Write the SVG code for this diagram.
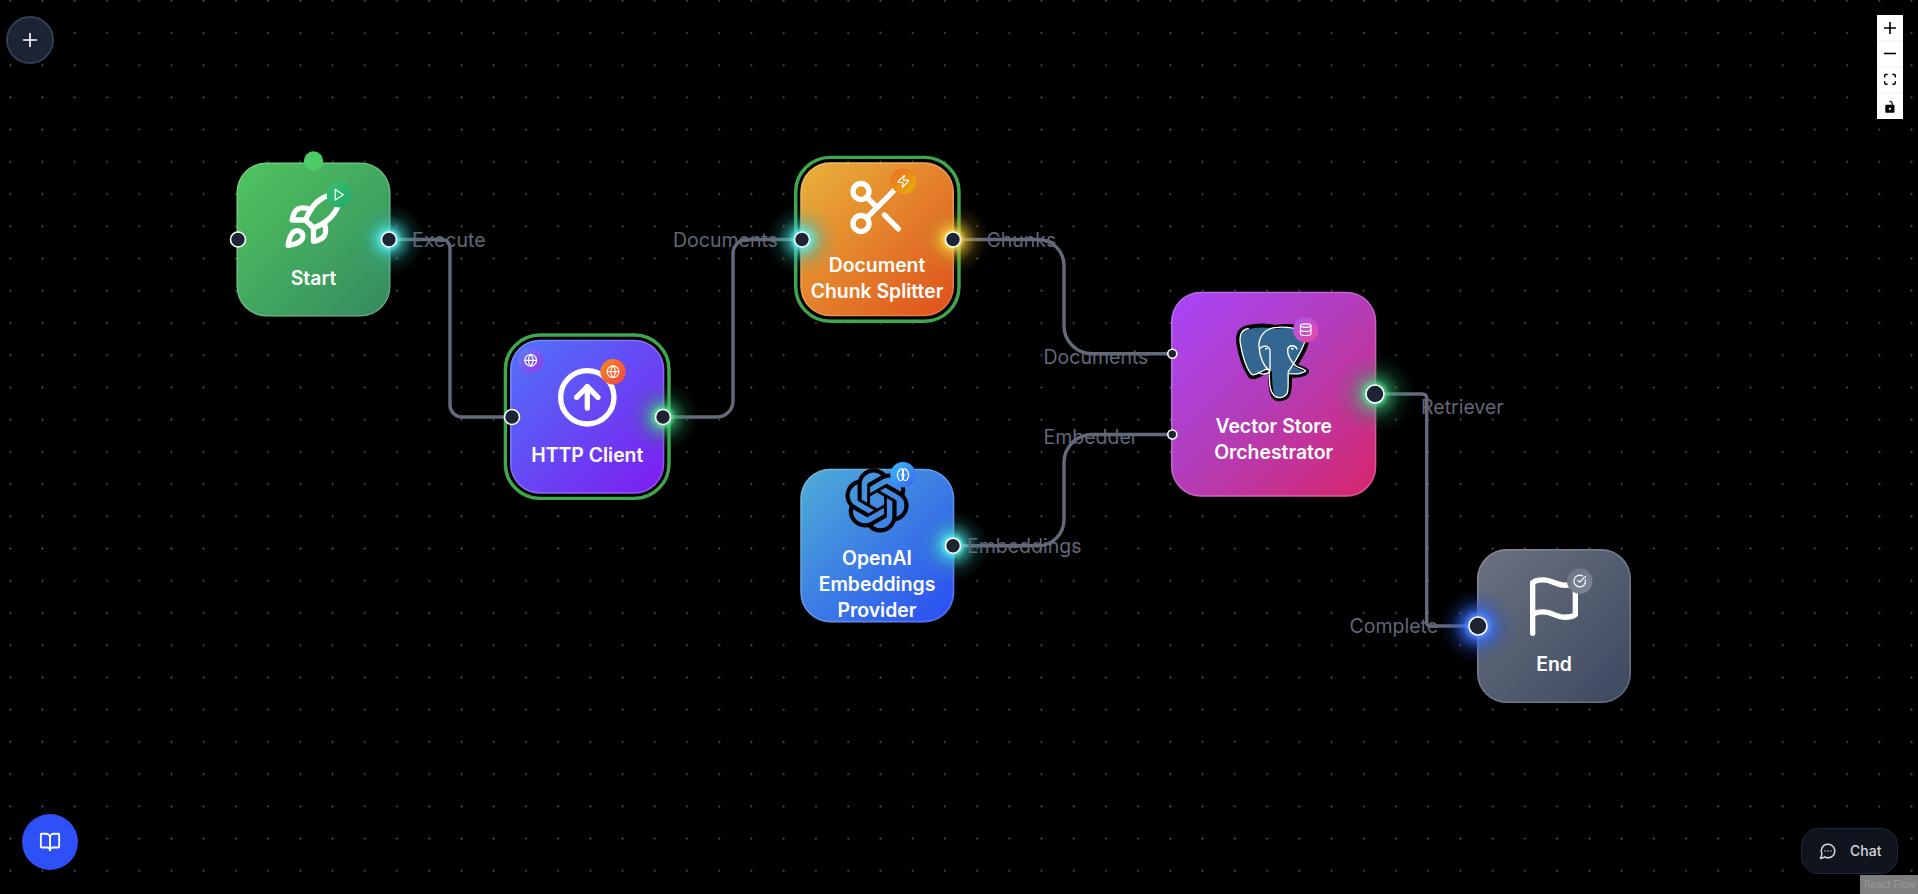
<svg xmlns="http://www.w3.org/2000/svg" width="1918" height="894" viewBox="0 0 1918 894">
<style>
text{font-family:Inter,"Liberation Sans",sans-serif}
.lbl{font-size:19.4px;font-weight:600;fill:#fff;text-anchor:middle}
.elbl{font-size:19.5px;font-weight:400;fill:#616778;dominant-baseline:central}
.edge{fill:none;stroke:#646a7a;stroke-width:3.4}
.ic{fill:none;stroke:#fff;stroke-width:2;stroke-linecap:round;stroke-linejoin:round}
.bd{fill:none;stroke:rgba(255,255,255,.2);stroke-width:1.6}
.ring{fill:none;stroke:#3fa84f;stroke-width:3.4}
.h{fill:#1e2433;stroke:#fff;stroke-width:1.6}
</style>
<defs>
<pattern id="dots" x="-5.8" y="-15.4" width="32.225" height="32.225" patternUnits="userSpaceOnUse"><circle cx="16.11" cy="16.11" r=".9" fill="#666"/></pattern>
<linearGradient id="gS" x1="0" y1="0" x2="1" y2="1"><stop offset="0" stop-color="#50c55e"/><stop offset="1" stop-color="#348a60"/></linearGradient>
<linearGradient id="gH" x1="0" y1="0" x2="1" y2="1"><stop offset="0" stop-color="#4f73f8"/><stop offset="1" stop-color="#7e1cf0"/></linearGradient>
<linearGradient id="gD" x1="0" y1="0" x2="1" y2="1"><stop offset="0" stop-color="#e9b23a"/><stop offset="1" stop-color="#df4f1c"/></linearGradient>
<linearGradient id="gV" x1="0" y1="0" x2="1" y2="1"><stop offset="0" stop-color="#a845fa"/><stop offset=".5" stop-color="#b43cb6"/><stop offset="1" stop-color="#d8256a"/></linearGradient>
<linearGradient id="gO" x1="0" y1="0" x2="1" y2="1"><stop offset="0" stop-color="#4eaed6"/><stop offset="1" stop-color="#2a4cf2"/></linearGradient>
<linearGradient id="gE" x1="0" y1="0" x2="1" y2="1"><stop offset="0" stop-color="#6b7280"/><stop offset="1" stop-color="#3c4860"/></linearGradient>
<linearGradient id="b1" x1="0" y1="0" x2="1" y2="1"><stop offset="0" stop-color="#34c46e"/><stop offset="1" stop-color="#25a56d"/></linearGradient>
<linearGradient id="b2" x1="0" y1="0" x2="1" y2="1"><stop offset="0" stop-color="#5c82f4"/><stop offset="1" stop-color="#9333ea"/></linearGradient>
<linearGradient id="b3" x1="0" y1="0" x2="1" y2="1"><stop offset="0" stop-color="#f98a1e"/><stop offset="1" stop-color="#ef4444"/></linearGradient>
<linearGradient id="b4" x1="0" y1="0" x2="1" y2="1"><stop offset="0" stop-color="#ea6a24"/><stop offset="1" stop-color="#eab308"/></linearGradient>
<linearGradient id="b5" x1="0" y1="0" x2="1" y2="1"><stop offset="0" stop-color="#a855f7"/><stop offset="1" stop-color="#ec4899"/></linearGradient>
<linearGradient id="b6" x1="0" y1="0" x2="1" y2="1"><stop offset="0" stop-color="#38bdf8"/><stop offset="1" stop-color="#3b62f6"/></linearGradient>
<linearGradient id="b7" x1="0" y1="0" x2="1" y2="1"><stop offset="0" stop-color="#6b7280"/><stop offset="1" stop-color="#808999"/></linearGradient>
<radialGradient id="gc"><stop offset=".2" stop-color="#5ff0f0"/><stop offset=".38" stop-color="#45d8d4" stop-opacity=".55"/><stop offset=".68" stop-color="#30b0a8" stop-opacity=".16"/><stop offset="1" stop-color="#30b0a8" stop-opacity="0"/></radialGradient>
<radialGradient id="gg"><stop offset=".2" stop-color="#5ce89a"/><stop offset=".38" stop-color="#3cc47a" stop-opacity=".5"/><stop offset=".68" stop-color="#2a9a5c" stop-opacity=".16"/><stop offset="1" stop-color="#2a9a5c" stop-opacity="0"/></radialGradient>
<radialGradient id="gy"><stop offset=".2" stop-color="#f8e050"/><stop offset=".38" stop-color="#e8c238" stop-opacity=".55"/><stop offset=".68" stop-color="#c09a20" stop-opacity=".16"/><stop offset="1" stop-color="#c09a20" stop-opacity="0"/></radialGradient>
<radialGradient id="gb"><stop offset=".24" stop-color="#5a8cff"/><stop offset=".42" stop-color="#3468f0" stop-opacity=".65"/><stop offset=".7" stop-color="#2450c8" stop-opacity=".2"/><stop offset="1" stop-color="#2450c8" stop-opacity="0"/></radialGradient>
<g id="globe"><circle cx="12" cy="12" r="10"/><path d="M12 2a14.5 14.5 0 0 0 0 20 14.5 14.5 0 0 0 0-20"/><path d="M2 12h20"/></g>
</defs>
<rect width="1918" height="894" fill="#000"/>
<rect width="1918" height="894" fill="url(#dots)"/>

<g id="connectors">
<path class="edge" d="M389 239.500H442a8 8 0 0 1 8 8V405a12 12 0 0 0 12 12H512"/>
<path class="edge" d="M663 417H717a16 16 0 0 0 16-16V253.500a14 14 0 0 1 14-14H802"/>
<path class="edge" d="M953 239.500H1038a26 26 0 0 1 26 26V325.700a28 28 0 0 0 28 28H1172"/>
<path class="edge" d="M953 545.700H1038a26 26 0 0 0 26-26V462.500a28 28 0 0 1 28-28H1172"/>
<path class="edge" d="M1375 394H1422.700a4 4 0 0 1 4 4V623a3 3 0 0 0 3 3H1478"/>
</g>

<g id="start">
<rect x="236.500" y="162.500" width="154" height="154" rx="30" fill="url(#gS)"/>
<rect class="bd" x="237.300" y="163.300" width="152.400" height="152.400" rx="29"/>
<circle cx="313.500" cy="161" r="9.700" fill="#4ccb66"/>
<g class="ic" transform="translate(281.500 188) scale(2.667)"><path d="M4.500 16.500c-1.500 1.260-2 5-2 5s3.740-.5 5-2c.71-.84.7-2.130-.09-2.910a2.180 2.180 0 0 0-2.910-.09z"/><path d="m12 15-3-3a22 22 0 0 1 2-3.950A12.880 12.880 0 0 1 22 2c0 2.720-.78 7.500-6 11a22.350 22.350 0 0 1-4 2z"/><path d="M9 12H4s.55-3.030 2-4c1.620-1.080 5 0 5 0"/><path d="M12 15v5s3.030-.55 4-2c1.080-1.620 0-5 0-5"/></g>
<circle cx="339.300" cy="194.700" r="12.700" fill="url(#b1)"/>
<g class="ic" transform="translate(332.300 187.700) scale(.583)"><path d="M5 3 19 12 5 21z"/></g>
<text class="lbl" x="313.500" y="285">Start</text>
<circle cx="238" cy="239.500" r="7.500" class="h"/>
<circle cx="389" cy="239.500" r="36" fill="url(#gc)"/>
<circle cx="389" cy="239.500" r="7.500" class="h"/>
</g>

<g id="http-client">
<rect class="ring" x="505.400" y="335" width="163.600" height="163.400" rx="34.500"/>
<rect x="510" y="339.700" width="154.300" height="154" rx="30" fill="url(#gH)"/>
<rect class="bd" x="510.800" y="340.500" width="152.700" height="152.400" rx="29"/>
<g class="ic" transform="translate(555.300 365.300) scale(2.667)"><circle cx="12" cy="12" r="10"/><path d="m16 12-4-4-4 4"/><path d="M12 16V8"/></g>
<circle cx="530.700" cy="360.300" r="12.700" fill="url(#b2)"/>
<use href="#globe" class="ic" transform="translate(523.700 353.300) scale(.583)"/>
<circle cx="613" cy="371.700" r="12.700" fill="url(#b3)"/>
<use href="#globe" class="ic" transform="translate(606 364.700) scale(.583)"/>
<text class="lbl" x="587.300" y="461.700">HTTP Client</text>
<circle cx="512" cy="417" r="7.500" class="h"/>
<circle cx="663" cy="417" r="36" fill="url(#gg)"/>
<circle cx="663" cy="417" r="7.500" class="h"/>
</g>

<g id="document-chunk-splitter">
<rect class="ring" x="795.700" y="157.400" width="163.300" height="163.800" rx="34.500"/>
<rect x="800.300" y="162.300" width="153.700" height="154" rx="30" fill="url(#gD)"/>
<rect class="bd" x="801.100" y="163.100" width="152.100" height="152.400" rx="29"/>
<g class="ic" transform="translate(845 175.500) scale(2.667)"><circle cx="6" cy="6" r="3"/><path d="M8.120 8.120 12 12"/><path d="M20 4 8.120 15.880"/><circle cx="6" cy="18" r="3"/><path d="M14.800 14.800 20 20"/></g>
<circle cx="903.300" cy="181.300" r="12.700" fill="url(#b4)"/>
<g class="ic" transform="translate(896.300 174.300) scale(.583)"><path d="M4 14a1 1 0 0 1-.78-1.630l9.900-10.200a.5.5 0 0 1 .86.46l-1.920 6.020A1 1 0 0 0 13 10h7a1 1 0 0 1 .78 1.630l-9.900 10.200a.5.5 0 0 1-.86-.46l1.920-6.020A1 1 0 0 0 11 14z"/></g>
<text class="lbl" x="877" y="271.700">Document</text>
<text class="lbl" x="877" y="297.500">Chunk Splitter</text>
<circle cx="802" cy="239.500" r="36" fill="url(#gc)"/>
<circle cx="802" cy="239.500" r="7.500" class="h"/>
<circle cx="953" cy="239.500" r="36" fill="url(#gy)"/>
<circle cx="953" cy="239.500" r="7.500" class="h"/>
</g>

<g id="vector-store-orchestrator">
<rect x="1171" y="291.700" width="205.300" height="205" rx="30" fill="url(#gV)"/>
<rect class="bd" x="1171.800" y="292.500" width="203.700" height="203.400" rx="29"/>
<g transform="translate(1225 315) scale(.3333)">
<path d="M70 36C48 40 36 55 40 85C46 120 58 160 76 184C88 192 104 180 118 172L135 172C135 200 136 225 143 240C152 258 180 256 190 238C196 222 194 200 196 182C220 184 246 178 246 168C240 160 224 160 212 150C232 120 250 85 248 60C244 36 200 28 150 36C125 30 95 30 70 36Z" fill="#336791" stroke="#000" stroke-width="12" stroke-linejoin="round"/>
<g fill="none" stroke="#fff" stroke-width="4" stroke-linecap="round" stroke-linejoin="round">
<path d="M70 40C52 44 42 58 46 85C52 120 62 158 80 178C90 184 102 172 118 165C126 160 132 165 135 168"/>
<path d="M148 38C120 42 100 65 102 95C104 130 118 155 132 165C134 200 132 225 146 240C156 252 176 250 186 236C192 220 188 200 190 170C205 148 238 100 245 60"/>
<path d="M148 38C175 34 215 36 240 55"/>
<path d="M188 102C186 120 198 140 212 152C222 160 236 160 242 168C232 176 212 178 194 176"/>
<path d="M104 102C112 90 130 90 135 105V165"/>
<path d="M188 102C192 90 210 88 216 102"/>
<path d="M100 172C110 180 122 178 132 172"/>
</g>
<ellipse cx="124" cy="101" rx="4" ry="3" fill="#fff"/><ellipse cx="202" cy="101" rx="4" ry="3" fill="#fff"/>
</g>
<circle cx="1305.700" cy="329.700" r="12.700" fill="url(#b5)"/>
<g class="ic" transform="translate(1298.700 322.700) scale(.583)"><ellipse cx="12" cy="5" rx="9" ry="3"/><path d="M3 5V19A9 3 0 0 0 21 19V5"/><path d="M3 12A9 3 0 0 0 21 12"/></g>
<text class="lbl" x="1273.700" y="432.700">Vector Store</text>
<text class="lbl" x="1273.700" y="458.700">Orchestrator</text>
<circle cx="1172.300" cy="353.700" r="4.500" class="h"/>
<circle cx="1172.300" cy="434.500" r="4.500" class="h"/>
<circle cx="1375" cy="394" r="40" fill="url(#gg)"/>
<circle cx="1375" cy="394" r="9" class="h"/>
</g>

<g id="openai-embeddings-provider">
<rect x="800.300" y="468.700" width="154" height="153.700" rx="30" fill="url(#gO)"/>
<rect class="bd" x="801.100" y="469.500" width="152.400" height="152.100" rx="29"/>
<path transform="translate(845 468.500) scale(2.667)" fill="#000" d="M22.2819 9.8211a5.9847 5.9847 0 0 0-.5157-4.9108 6.0462 6.0462 0 0 0-6.5098-2.9A6.0651 6.0651 0 0 0 4.9807 4.1818a5.9847 5.9847 0 0 0-3.9977 2.9 6.0462 6.0462 0 0 0 .7427 7.0966 5.98 5.98 0 0 0 .511 4.9107 6.051 6.051 0 0 0 6.5146 2.9001A5.9847 5.9847 0 0 0 13.2599 24a6.0557 6.0557 0 0 0 5.7718-4.2058 5.9894 5.9894 0 0 0 3.9977-2.9001 6.0557 6.0557 0 0 0-.7475-7.0729zm-9.022 12.6081a4.4755 4.4755 0 0 1-2.8764-1.0408l.1419-.0804 4.7783-2.7582a.7948.7948 0 0 0 .3927-.6813v-6.7369l2.02 1.1686a.071.071 0 0 1 .038.052v5.5826a4.504 4.504 0 0 1-4.4945 4.4944zm-9.6607-4.1254a4.4708 4.4708 0 0 1-.5346-3.0137l.142.0852 4.783 2.7582a.7712.7712 0 0 0 .7806 0l5.8428-3.3685v2.3324a.0804.0804 0 0 1-.0332.0615L9.74 19.9502a4.4992 4.4992 0 0 1-6.1408-1.6464zM2.3408 7.8956a4.485 4.485 0 0 1 2.3655-1.9728V11.6a.7664.7664 0 0 0 .3879.6765l5.8144 3.3543-2.0201 1.1685a.0757.0757 0 0 1-.071 0l-4.8303-2.7865A4.504 4.504 0 0 1 2.3408 7.872zm16.5963 3.8558L13.1038 8.364 15.1192 7.2a.0757.0757 0 0 1 .071 0l4.8303 2.7913a4.4944 4.4944 0 0 1-.6765 8.1042v-5.6772a.79.79 0 0 0-.407-.667zm2.0107-3.0231l-.142-.0852-4.7735-2.7818a.7759.7759 0 0 0-.7854 0L9.409 9.2297V6.8974a.0662.0662 0 0 1 .0284-.0615l4.8303-2.7866a4.4992 4.4992 0 0 1 6.6802 4.66zM8.3065 12.863l-2.02-1.1638a.0804.0804 0 0 1-.038-.0567V6.0742a4.4992 4.4992 0 0 1 7.3757-3.4537l-.142.0805L8.704 5.459a.7948.7948 0 0 0-.3927.6813zm1.0976-2.3654l2.602-1.4998 2.6069 1.4998v2.9994l-2.5974 1.4997-2.6067-1.4997Z"/>
<circle cx="903" cy="474.700" r="12.700" fill="url(#b6)"/>
<g class="ic" transform="translate(896 467.700) scale(.583)"><path d="M12 5a3 3 0 1 0-5.997.125 4 4 0 0 0-2.526 5.770 4 4 0 0 0 .556 6.588A4 4 0 1 0 12 18Z"/><path d="M12 5a3 3 0 1 1 5.997.125 4 4 0 0 1 2.526 5.770 4 4 0 0 1-.556 6.588A4 4 0 1 1 12 18Z"/><path d="M15 13a4.500 4.500 0 0 1-3-4 4.500 4.500 0 0 1-3 4"/><path d="M12 5v13"/></g>
<text class="lbl" x="877" y="565">OpenAI</text>
<text class="lbl" x="877" y="590.700">Embeddings</text>
<text class="lbl" x="877" y="616.700">Provider</text>
<circle cx="953" cy="545.700" r="36" fill="url(#gc)"/>
<circle cx="953" cy="545.700" r="7.500" class="h"/>
</g>

<g id="end">
<rect x="1477" y="549" width="154" height="154" rx="30" fill="url(#gE)"/>
<rect class="bd" x="1477.800" y="549.800" width="152.400" height="152.400" rx="29"/>
<g class="ic" transform="translate(1522 574.600) scale(2.667)"><path d="M4 15s1-1 4-1 5 2 8 2 4-1 4-1V3s-1 1-4 1-5-2-8-2-4 1-4 1z"/><path d="M4 22V15"/></g>
<circle cx="1579.700" cy="581" r="12.700" fill="url(#b7)"/>
<g class="ic" transform="translate(1572.700 574) scale(.583)"><path d="M21.801 10A10 10 0 1 1 17 3.335"/><path d="m9 11 3 3L22 4"/></g>
<text class="lbl" x="1554" y="670.700">End</text>
<circle cx="1478" cy="626" r="38" fill="url(#gb)"/>
<circle cx="1478" cy="626" r="9" class="h"/>
</g>

<g id="edge-labels">
<text class="elbl" x="412" y="239.500">Execute</text>
<text class="elbl" x="673" y="239.500">Documents</text>
<text class="elbl" x="986.500" y="239.500">Chunks</text>
<text class="elbl" x="1043.500" y="357">Documents</text>
<text class="elbl" x="1043.500" y="437">Embedder</text>
<text class="elbl" x="1421" y="407">Retriever</text>
<text class="elbl" x="967" y="545.700">Embeddings</text>
<text class="elbl" x="1349.500" y="626">Complete</text>
</g>

<g id="add-button">
<circle cx="30" cy="40" r="23" fill="#1c2434" stroke="#334155" stroke-width="1.800"/>
<path d="M30 33.500V46.500M23.500 40H36.500" stroke="#fff" stroke-width="1.600" stroke-linecap="round"/>
</g>

<g id="controls">
<rect x="1877" y="15" width="26" height="104" fill="#fff"/>
<path d="M1877 41h26M1877 67h26M1877 93h26" stroke="#eee" stroke-width="1"/>
<path transform="translate(1884 22) scale(.375)" d="M32 18.133H18.133V32h-4.266V18.133H0v-4.266h13.867V0h4.266v13.867H32z"/>
<path transform="translate(1884 52.700) scale(.375)" d="M0 0h32v4.200H0z"/>
<path transform="translate(1884 73.800) scale(.375)" d="M3.692 4.630c0-.53.4-.938.939-.938h5.215V0H4.708C2.130 0 0 2.054 0 4.630v5.216h3.692V4.631zM27.354 0h-5.200v3.692h5.170c.53 0 .984.4.984.939v5.215H32V4.631A4.624 4.624 0 0027.354 0zm.954 24.830c0 .532-.4.940-.939.940h-5.215v3.768h5.215c2.577 0 4.631-2.130 4.631-4.707v-5.139h-3.692v5.139zm-23.677.940c-.531 0-.939-.4-.939-.940v-5.138H0v5.139c0 2.577 2.130 4.707 4.708 4.707h5.138V25.770H4.631z"/>
<path transform="translate(1885.300 100.800) scale(.375)" d="M21.333 10.667H19.810V7.619C19.810 3.429 16.380 0 12.190 0c-4.114 0-1.370 2.133.305 2.438 1.676.305 4.420 2.590 4.420 5.181v3.048H3.047A3.056 3.056 0 000 13.714v15.238A3.056 3.056 0 003.048 32h18.285a3.056 3.056 0 003.048-3.048V13.714a3.056 3.056 0 00-3.048-3.047zM12.190 24.533a3.056 3.056 0 01-3.047-3.047 3.056 3.056 0 013.047-3.048 3.056 3.056 0 013.048 3.048 3.056 3.056 0 01-3.048 3.047z"/>
</g>

<g id="docs-button">
<circle cx="50" cy="842" r="28" fill="#2d50f7"/>
<g class="ic" transform="translate(39 831) scale(.917)"><path d="M12 7v14"/><path d="M3 18a1 1 0 0 1-1-1V4a1 1 0 0 1 1-1h5a4 4 0 0 1 4 4 4 4 0 0 1 4-4h5a1 1 0 0 1 1 1v13a1 1 0 0 1-1 1h-6a3 3 0 0 0-3 3 3 3 0 0 0-3-3z"/></g>
</g>

<g id="chat-button">
<rect x="1801.500" y="828.500" width="96" height="45" rx="17" fill="#10141f" stroke="#1f2937"/>
<g class="ic" style="stroke:#d1d5db" transform="translate(1819 842) scale(.75)"><path d="M7.900 20A9 9 0 1 0 4 16.100L2 22Z"/><path d="M8 12h.01M12 12h.01M16 12h.01"/></g>
<text x="1850" y="856" font-size="14" font-weight="500" fill="#d1d5db">Chat</text>
</g>

<g id="attribution">
<rect x="1860" y="875" width="58" height="19" fill="#7f7f7f"/>
<text x="1864" y="888" font-size="10" fill="#999">React Flow</text>
</g>
</svg>
